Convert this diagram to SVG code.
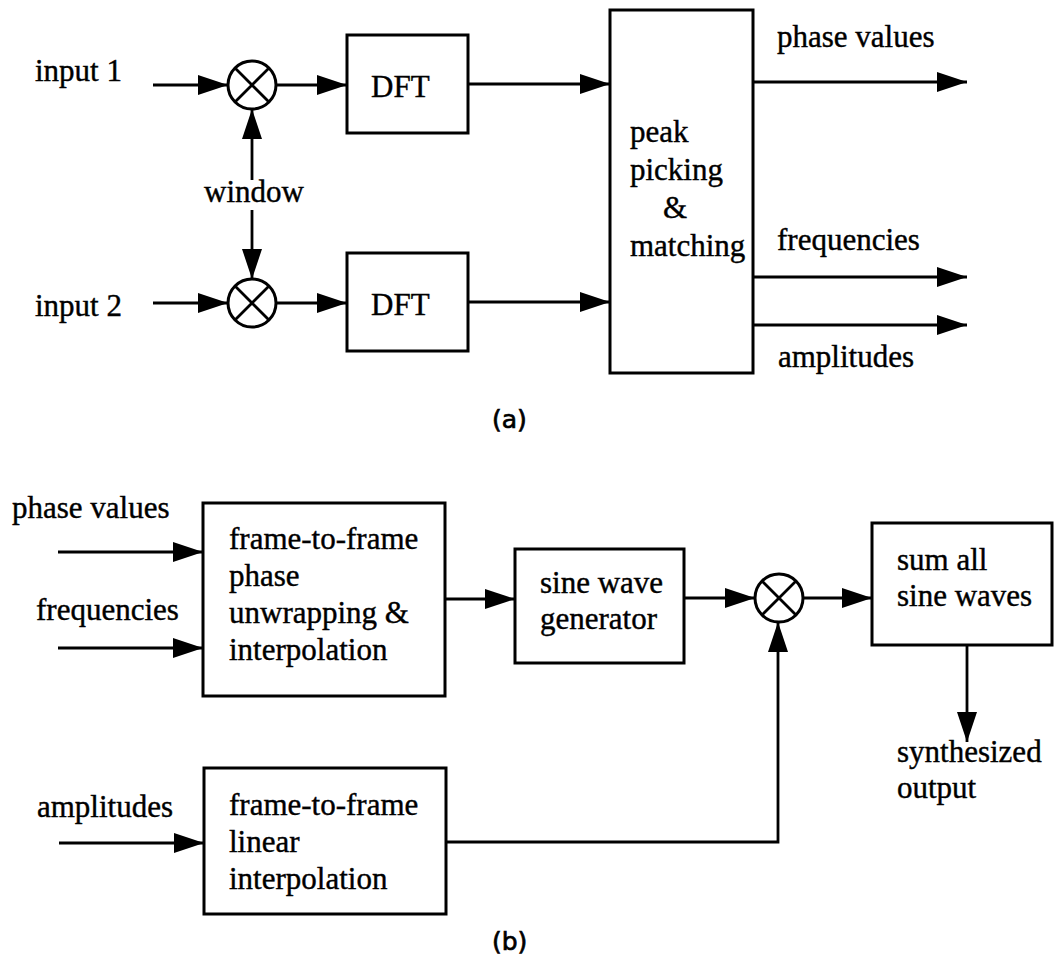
<svg xmlns="http://www.w3.org/2000/svg" width="1054" height="965" viewBox="0 0 1054 965">
<style>
  .t { font-family: "Liberation Serif", "Times New Roman", serif; font-size: 31px; fill: #000; stroke: #000; stroke-width: 0.4; }
  .cap { font-family: "DejaVu Sans", sans-serif; font-size: 25px; fill: #000; stroke: #000; stroke-width: 0.7; }
  .box { fill: #fff; stroke: #000; stroke-width: 3; }
  .mul { fill: #fff; stroke: #000; stroke-width: 3; }
  .ln { fill: none; stroke: #000; stroke-width: 2.8; }
  .arr { fill: none; stroke: #000; stroke-width: 2.8; marker-end: url(#ah); }
</style>
<defs>
  <marker id="ah" markerUnits="userSpaceOnUse" markerWidth="30" markerHeight="20" refX="30" refY="10" orient="auto">
    <path d="M0,0 L30,10 L0,20 z" fill="#000"/>
  </marker>
  <marker id="ahs" markerUnits="userSpaceOnUse" markerWidth="30" markerHeight="20" refX="30" refY="10" orient="auto-start-reverse">
    <path d="M0,0 L30,10 L0,20 z" fill="#000"/>
  </marker>
</defs>

<g id="connectors">
  <line class="arr" x1="153" y1="85" x2="228" y2="85"/>
  <line class="arr" x1="276" y1="85" x2="347" y2="85"/>
  <line class="arr" x1="468" y1="84" x2="610" y2="84"/>
  <line class="arr" x1="153" y1="303" x2="228" y2="303"/>
  <line class="arr" x1="276" y1="303" x2="347" y2="303"/>
  <line class="arr" x1="468" y1="302" x2="610" y2="302"/>
  <line class="ln" x1="252" y1="109" x2="252" y2="279" marker-start="url(#ahs)" marker-end="url(#ahs)"/>
  <line class="arr" x1="753" y1="82" x2="967" y2="82"/>
  <line class="arr" x1="753" y1="277" x2="967" y2="277"/>
  <line class="arr" x1="753" y1="325" x2="967" y2="325"/>
  <line class="arr" x1="58" y1="552" x2="203" y2="552"/>
  <line class="arr" x1="58" y1="648" x2="203" y2="648"/>
  <line class="arr" x1="445" y1="599" x2="515" y2="599"/>
  <line class="arr" x1="684" y1="598" x2="755" y2="598"/>
  <line class="arr" x1="803" y1="598" x2="872" y2="598"/>
  <line class="arr" x1="967" y1="645" x2="967" y2="742"/>
  <line class="arr" x1="59" y1="843" x2="204" y2="843"/>
  <polyline class="arr" points="446,842 778,842 778,622"/>
</g>

<g id="label-window">
  <rect x="206" y="180" width="96" height="30" fill="#fff"/>
  <text class="t" x="254" y="202" text-anchor="middle">window</text>
</g>

<g id="input1"><text class="t" x="35" y="81">input 1</text></g>
<g id="input2"><text class="t" x="35" y="316">input 2</text></g>

<g id="mul1">
  <circle class="mul" cx="252" cy="85" r="24"/>
  <path class="ln" d="M235,68 L269,102 M269,68 L235,102"/>
</g>
<g id="mul2">
  <circle class="mul" cx="252" cy="303" r="24"/>
  <path class="ln" d="M235,286 L269,320 M269,286 L235,320"/>
</g>

<g id="dft1">
  <rect class="box" x="347" y="35" width="121" height="98"/>
  <text class="t" x="371" y="97">DFT</text>
</g>
<g id="dft2">
  <rect class="box" x="347" y="253" width="121" height="98"/>
  <text class="t" x="371" y="315">DFT</text>
</g>

<g id="peak">
  <rect class="box" x="610" y="10" width="143" height="363"/>
  <text class="t" x="630" y="142">peak</text>
  <text class="t" x="630" y="180">picking</text>
  <text class="t" x="663" y="218">&amp;</text>
  <text class="t" x="630" y="256">matching</text>
</g>

<g id="out-labels-a">
  <text class="t" x="777" y="47">phase values</text>
  <text class="t" x="777" y="250">frequencies</text>
  <text class="t" x="778" y="367">amplitudes</text>
</g>

<g id="caption-a"><text class="cap" x="492" y="428">(a)</text></g>

<g id="in-labels-b">
  <text class="t" x="12" y="518">phase values</text>
  <text class="t" x="36" y="620">frequencies</text>
  <text class="t" x="37" y="817">amplitudes</text>
</g>

<g id="unwrap">
  <rect class="box" x="203" y="503" width="242" height="193"/>
  <text class="t" x="229" y="549">frame-to-frame</text>
  <text class="t" x="229" y="586">phase</text>
  <text class="t" x="229" y="623">unwrapping &amp;</text>
  <text class="t" x="229" y="660">interpolation</text>
</g>

<g id="sinegen">
  <rect class="box" x="515" y="549" width="169" height="114"/>
  <text class="t" x="540" y="593">sine wave</text>
  <text class="t" x="540" y="629">generator</text>
</g>

<g id="mul3">
  <circle class="mul" cx="779" cy="598" r="24"/>
  <path class="ln" d="M762,581 L796,615 M796,581 L762,615"/>
</g>

<g id="sum">
  <rect class="box" x="872" y="523" width="180" height="122"/>
  <text class="t" x="897" y="570">sum all</text>
  <text class="t" x="897" y="606">sine waves</text>
</g>

<g id="synth-label">
  <text class="t" x="897" y="762">synthesized</text>
  <text class="t" x="897" y="798">output</text>
</g>

<g id="linear">
  <rect class="box" x="204" y="768" width="242" height="146"/>
  <text class="t" x="229" y="815">frame-to-frame</text>
  <text class="t" x="229" y="852">linear</text>
  <text class="t" x="229" y="889">interpolation</text>
</g>

<g id="caption-b"><text class="cap" x="492" y="950">(b)</text></g>
</svg>
